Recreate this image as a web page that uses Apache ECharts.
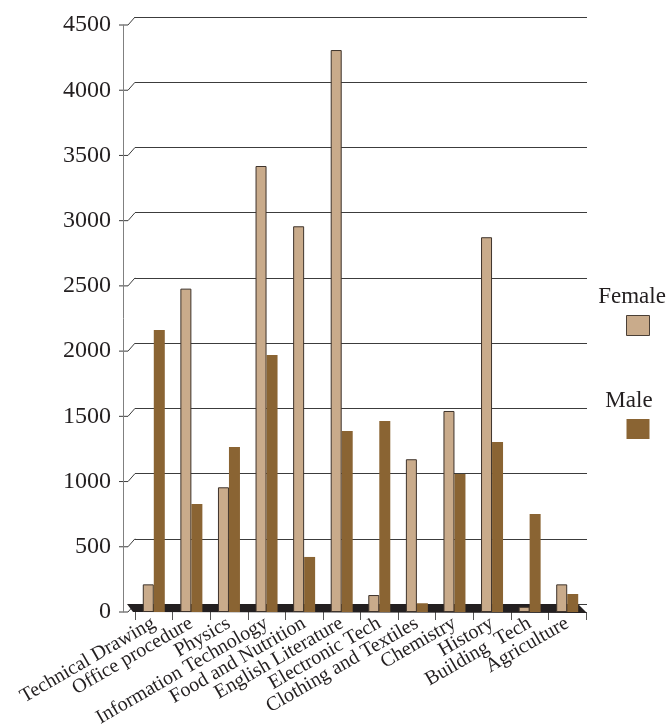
<!DOCTYPE html>
<html>
<head>
<meta charset="utf-8">
<script src="https://cdn.jsdelivr.net/npm/echarts@6/dist/echarts.min.js"></script>
<style>
  html, body { margin: 0; padding: 0; background: #fff; }
  #chart { width: 669px; height: 724px; }
</style>
</head>
<body>
<div id="chart"></div>
<script>
const subjects = ['Technical Drawing', 'Office procedure', 'Physics', 'Information Technology',
  'Food and Nutrition', 'English Literature', 'Electronic Tech', 'Clothing and Textiles',
  'Chemistry', 'History', 'Building  Tech', 'Agriculture'];
const female = [212, 2479, 956, 3419, 2957, 4308, 130, 1171, 1541, 2873, 40, 212];
const male = [2162, 828, 1265, 1970, 422, 1388, 1464, 67, 1058, 1304, 752, 138];
const yTicks = [0, 500, 1000, 1500, 2000, 2500, 3000, 3500, 4000, 4500];

const FEMALE_COLOR = '#c9ab8b';
const MALE_COLOR = '#8a6433';
const INK = '#231f20';
const FONT = '"Liberation Serif", "Times New Roman", serif';

const chart = echarts.init(document.getElementById('chart'));

const option = {
  animation: false,
  backgroundColor: '#fff',
  textStyle: { fontFamily: FONT },
  grid: [
    // front: bars + labels
    { left: 135, right: 83, top: 25, bottom: 112, outerBoundsMode: 'none', containLabel: false },
    // back wall: grid lines
    { left: 135, right: 82, top: 17, bottom: 120, outerBoundsMode: 'none', containLabel: false }
  ],
  legend: {
    orient: 'vertical',
    left: 621,
    top: 310,
    icon: 'rect',
    itemWidth: 23,
    itemHeight: 20,
    itemGap: 83,
    formatter: () => '',
    data: [
      { name: 'Female', itemStyle: { borderColor: '#4a3f36', borderWidth: 1 } },
      { name: 'Male' }
    ]
  },
  xAxis: [
    {
      type: 'category',
      gridIndex: 0,
      data: subjects,
      axisLine: { show: false },
      axisTick: { show: true, length: 8, lineStyle: { color: '#555' } },
      axisLabel: {
        rotate: 30,
        interval: 0,
        margin: 10,
        fontSize: 20,
        color: INK,
        fontFamily: FONT
      }
    },
    { type: 'category', gridIndex: 1, data: subjects, show: false }
  ],
  yAxis: [
    {
      type: 'value',
      gridIndex: 0,
      min: 0,
      max: 4500,
      interval: 500,
      offset: 12,
      axisLine: { show: true, lineStyle: { color: '#808080', width: 1 } },
      axisTick: { show: false },
      splitLine: { show: false },
      axisLabel: {
        margin: 12, fontSize: 24, color: INK, fontFamily: FONT,
        formatter: v => String(v)
      }
    },
    {
      type: 'value',
      gridIndex: 1,
      min: 0,
      max: 4500,
      interval: 500,
      axisLine: { show: false },
      axisTick: { show: false },
      axisLabel: { show: false },
      splitLine: { show: true, lineStyle: { color: '#3c3c3c', width: 1 } }
    }
  ],
  series: [
    {
      name: 'Female',
      type: 'bar',
      data: female,
      barWidth: 11,
      barGap: '0%',
      z: 3,
      itemStyle: { color: FEMALE_COLOR, borderColor: '#3e332b', borderWidth: 1 }
    },
    {
      name: 'Male',
      type: 'bar',
      data: male,
      barWidth: 11,
      barGap: '0%',
      z: 3,
      itemStyle: { color: MALE_COLOR }
    }
  ]
};

chart.setOption(option);

// 3D-style decorations: dark floor and tick connectors to the back wall
const front0 = chart.convertToPixel({ yAxisIndex: 0 }, 0);
const back0 = chart.convertToPixel({ yAxisIndex: 1 }, 0);
const band = chart.convertToPixel({ xAxisIndex: 0 }, subjects[1]) - chart.convertToPixel({ xAxisIndex: 0 }, subjects[0]);
const leftX = chart.convertToPixel({ xAxisIndex: 0 }, subjects[0]) - band / 2;
const rightX = chart.convertToPixel({ xAxisIndex: 0 }, subjects[subjects.length - 1]) + band / 2;

const decor = [
  {
    type: 'polygon',
    z: 1,
    shape: {
      points: [
        [leftX - 8, back0], [rightX - 8, back0],
        [rightX + 1, front0 + 1], [leftX - 2, front0]
      ]
    },
    style: { fill: INK }
  }
];
yTicks.forEach(v => {
  const yf = chart.convertToPixel({ yAxisIndex: 0 }, v);
  const yb = chart.convertToPixel({ yAxisIndex: 1 }, v);
  decor.push({
    type: 'polyline',
    z: 0,
    shape: { points: [[119, yf], [128, yf], [135, yb]] },
    style: { stroke: '#3c3c3c', lineWidth: 1, fill: null }
  });
});
// legend labels placed above the swatches
decor.push(
  {
    type: 'text', z: 5, x: 632, y: 297,
    style: { text: 'Female', x: 0, y: 0, align: 'center', verticalAlign: 'middle',
      font: '23px ' + FONT, fill: INK }
  },
  {
    type: 'text', z: 5, x: 629, y: 401,
    style: { text: 'Male', x: 0, y: 0, align: 'center', verticalAlign: 'middle',
      font: '23px ' + FONT, fill: INK }
  }
);

chart.setOption({ graphic: decor });
</script>
</body>
</html>
